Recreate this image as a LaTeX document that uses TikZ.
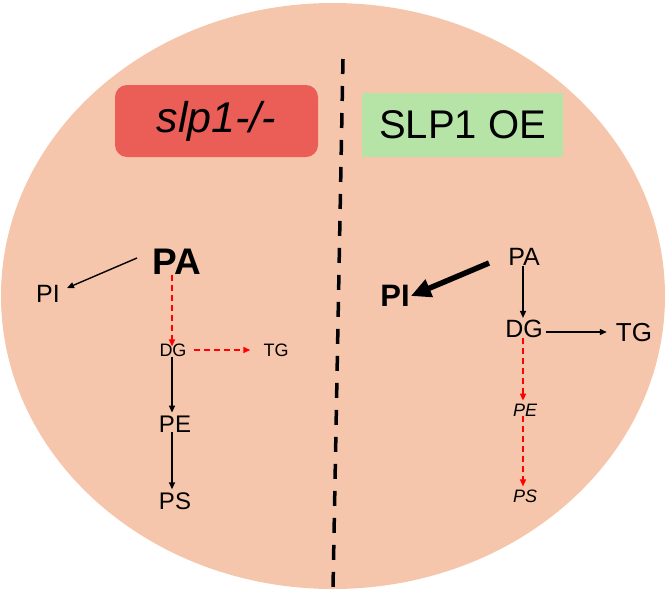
\documentclass[tikz,border=0pt]{standalone}
\usepackage{fontspec}
\setmainfont{Liberation Sans}
\usetikzlibrary{arrows.meta,calc}
\definecolor{bgpeach}{HTML}{F5C6AC}
\definecolor{boxred}{HTML}{EA5E57}
\definecolor{boxgreen}{HTML}{B5E4A6}
\begin{document}
\begin{tikzpicture}[x=1pt,y=-1pt,
  lbl/.style={inner sep=1pt, font=\fontsize{#1}{#1}\selectfont},
  blk/.style={-{Triangle[length=7pt,width=6pt]}, line width=1.4pt, black},
  reddash/.style={-{Triangle[length=7pt,width=6pt]}, line width=1.4pt, red, dash pattern=on 6pt off 4pt},
  thick arrow/.style={-{Triangle[length=20pt,width=18pt]}, line width=5.5pt, black}
]
\useasboundingbox (0,0) rectangle (666,590);
\fill[bgpeach] (333,296) ellipse [x radius=332, y radius=293];
% divider
\coordinate (dtop) at (343,59);
\coordinate (dbot) at (333,588);
\draw[line width=3.5pt, dash pattern=on 15pt off 12pt] (dtop) -- (dbot);
% title boxes
\node[fill=boxred, rounded corners=12pt, minimum width=203pt, minimum height=72pt, inner sep=0pt,
  font=\fontsize{43}{43}\selectfont\itshape] (tleft) at (216.5,121) {slp1-/-};
\node[fill=boxgreen, minimum width=201pt, minimum height=64pt, inner sep=0pt,
  font=\fontsize{40}{40}\selectfont] (tright) at (462.5,125) {SLP1 OE};
% left pathway
\node[lbl=37, font=\bfseries\fontsize{37}{37}\selectfont] (lPA) at (177,262) {PA};
\node[lbl=25] (lPI) at (48,294) {PI};
\node[lbl=18] (lDG) at (173,350) {DG};
\node[lbl=18] (lTG) at (276,350) {TG};
\node[lbl=24] (lPE) at (175,424) {PE};
\node[lbl=24] (lPS) at (175,501) {PS};
\coordinate (lpaw) at (137,258);
\draw[blk] (lpaw) -- ($(lPI.east)+(6,-6)$);
\draw[reddash] ($(lPA.south)+(-5,-1)$) -- ($(lDG.north)+(-1,4)$);
\draw[reddash] ($(lDG.east)+(6,0)$) -- ($(lTG.west)+(-12,0)$);
\draw[blk] ($(lDG.south)+(-1,-1)$) -- ($(lPE.north)+(-3,-2)$);
\draw[blk] ($(lPE.south)+(-3,-1)$) -- ($(lPS.north)+(-3,-2)$);
% right pathway
\node[lbl=25] (rPA) at (524,257) {PA};
\node[lbl=31, font=\bfseries\fontsize{31}{31}\selectfont] (rPI) at (395,296) {PI};
\node[lbl=25] (rDG) at (524,329) {DG};
\node[lbl=26] (rTG) at (634,333) {TG};
\node[lbl=18, font=\itshape\fontsize{18}{18}\selectfont] (rPE) at (525,410) {PE};
\node[lbl=18, font=\itshape\fontsize{18}{18}\selectfont] (rPS) at (525,496) {PS};
\coordinate (rpaw) at (489,263);
\draw[thick arrow] (rpaw) -- (rPI.east);
\draw[blk] ($(rPA.south)+(-1,-1)$) -- ($(rDG.north)+(-1,-1)$);
\draw[blk] ($(rDG.east)+(2,3)$) -- ($(rTG.west)+(-8,-1)$);
\draw[reddash] ($(rDG.south)+(-1,-1)$) -- ($(rPE.north)+(-2,-2)$);
\draw[reddash] ($(rPE.south)+(-2,-1)$) -- ($(rPS.north)+(-2,-2)$);
\end{tikzpicture}
\end{document}
